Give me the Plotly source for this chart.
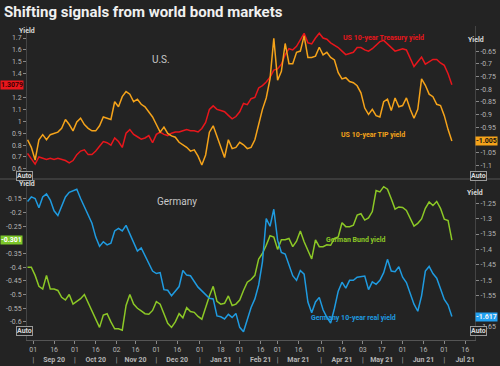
import pandas as pd
import plotly.graph_objects as go

# ---------------- data (every 2nd business day from 27 Aug 2020) ----------------
us10y = [0.73, 0.68, 0.64, 0.70, 0.69, 0.68, 0.69, 0.68, 0.69, 0.68,
         0.67, 0.65, 0.67, 0.72, 0.75, 0.76, 0.72, 0.72, 0.75, 0.79,
         0.83, 0.82, 0.80, 0.86, 0.83, 0.78, 0.90, 0.93, 0.89, 0.87,
         0.85, 0.86, 0.88, 0.82, 0.89, 0.91, 0.89, 0.88, 0.90, 0.91,
         0.91, 0.92, 0.93, 0.92, 0.92, 0.91, 0.94, 0.99, 1.10, 1.13,
         1.10, 1.09, 1.08, 1.05, 1.02, 1.04, 1.08, 1.15, 1.14, 1.19,
         1.20, 1.28, 1.30, 1.33, 1.37, 1.43, 1.44, 1.48, 1.56, 1.61,
         1.60, 1.63, 1.68, 1.74, 1.66, 1.65, 1.70, 1.74, 1.70, 1.69,
         1.66, 1.64, 1.62, 1.59, 1.56, 1.57, 1.58, 1.62, 1.62, 1.60,
         1.59, 1.61, 1.64, 1.67, 1.68, 1.65, 1.62, 1.59, 1.60, 1.61,
         1.60, 1.53, 1.46, 1.50, 1.54, 1.48, 1.50, 1.52, 1.52, 1.49,
         1.47, 1.40, 1.3079]

us_tip = [-1.00, -1.03, -1.08, -1.00, -0.98, -1.00, -0.98, -0.975, -0.97, -0.955,
          -0.92, -0.94, -0.965, -0.93, -0.915, -0.94, -0.955, -0.965, -0.965, -0.945,
          -0.91, -0.915, -0.92, -0.85, -0.87, -0.83, -0.81, -0.82, -0.85, -0.84,
          -0.86, -0.87, -0.89, -0.91, -0.94, -0.97, -0.95, -0.975, -0.985, -0.99,
          -1.01, -1.02, -1.03, -1.045, -1.04, -1.065, -1.10, -1.06, -0.97, -0.945,
          -0.985, -1.03, -1.07, -1.00, -1.035, -1.03, -1.01, -1.02, -1.035, -1.03,
          -1.00, -0.94, -0.88, -0.835, -0.76, -0.60, -0.765, -0.73, -0.62, -0.70,
          -0.70, -0.655, -0.65, -0.59, -0.675, -0.675, -0.67, -0.635, -0.665, -0.655,
          -0.675, -0.685, -0.735, -0.76, -0.755, -0.77, -0.775, -0.787, -0.815, -0.875,
          -0.90, -0.88, -0.905, -0.91, -0.85, -0.84, -0.885, -0.835, -0.87, -0.865,
          -0.835, -0.88, -0.915, -0.88, -0.76, -0.785, -0.82, -0.83, -0.86, -0.865,
          -0.905, -0.96, -1.005]

bund = [-0.40, -0.40, -0.43, -0.47, -0.48, -0.43, -0.48, -0.48, -0.485, -0.51,
        -0.52, -0.50, -0.535, -0.525, -0.515, -0.50, -0.53, -0.555, -0.59, -0.62,
        -0.575, -0.57, -0.60, -0.625, -0.625, -0.63, -0.54, -0.50, -0.535, -0.55,
        -0.56, -0.57, -0.572, -0.558, -0.526, -0.535, -0.57, -0.605, -0.62, -0.60,
        -0.57, -0.585, -0.548, -0.562, -0.565, -0.58, -0.59, -0.545, -0.505, -0.47,
        -0.525, -0.535, -0.532, -0.505, -0.54, -0.535, -0.52, -0.485, -0.455, -0.445,
        -0.43, -0.37, -0.35, -0.32, -0.285, -0.29, -0.335, -0.30, -0.30, -0.295,
        -0.325, -0.305, -0.268, -0.307, -0.34, -0.37, -0.30, -0.325, -0.325, -0.318,
        -0.32, -0.295, -0.29, -0.238, -0.252, -0.252, -0.247, -0.21, -0.205, -0.228,
        -0.22, -0.197, -0.12, -0.125, -0.106, -0.115, -0.15, -0.188, -0.18, -0.182,
        -0.193, -0.22, -0.25, -0.24, -0.224, -0.185, -0.162, -0.175, -0.16, -0.185,
        -0.225, -0.23, -0.301]

de_real = [-1.245, -1.23, -1.235, -1.265, -1.23, -1.22, -1.24, -1.275, -1.29, -1.26,
           -1.23, -1.215, -1.21, -1.205, -1.235, -1.26, -1.29, -1.315, -1.36, -1.39,
           -1.375, -1.385, -1.38, -1.34, -1.332, -1.34, -1.322, -1.35, -1.38, -1.405,
           -1.395, -1.42, -1.44, -1.47, -1.478, -1.475, -1.53, -1.532, -1.55, -1.535,
           -1.52, -1.468, -1.483, -1.485, -1.505, -1.522, -1.534, -1.545, -1.558, -1.56,
           -1.615, -1.618, -1.625, -1.61, -1.62, -1.607, -1.652, -1.666, -1.63, -1.588,
           -1.56, -1.515, -1.44, -1.30, -1.325, -1.27, -1.37, -1.41, -1.415, -1.45,
           -1.485, -1.50, -1.468, -1.48, -1.57, -1.605, -1.57, -1.555, -1.595, -1.62,
           -1.638, -1.591, -1.535, -1.506, -1.525, -1.50, -1.50, -1.49, -1.488, -1.486,
           -1.53, -1.505, -1.513, -1.50, -1.475, -1.432, -1.47, -1.472, -1.456, -1.49,
           -1.507, -1.545, -1.577, -1.60, -1.55, -1.47, -1.455, -1.478, -1.493, -1.527,
           -1.562, -1.58, -1.617]

dates = pd.bdate_range("2020-08-27", periods=2 * len(us10y) - 1)[::2]

# axis ticks / labels
x_tick_dates = ["2020-09-01", "2020-09-16", "2020-10-01", "2020-10-16", "2020-11-02", "2020-11-16",
                "2020-12-01", "2020-12-16", "2021-01-01", "2021-01-18", "2021-02-01", "2021-02-16",
                "2021-03-01", "2021-03-16", "2021-04-01", "2021-04-16", "2021-05-03", "2021-05-17",
                "2021-06-01", "2021-06-16", "2021-07-01", "2021-07-16"]
x_tick_days = ["01", "16", "01", "16", "02", "16", "01", "16", "01", "18", "01", "16",
               "01", "16", "01", "16", "03", "17", "01", "16", "01", "16"]
month_labels = ["Sep 20", "Oct 20", "Nov 20", "Dec 20", "Jan 21", "Feb 21",
                "Mar 21", "Apr 21", "May 21", "Jun 21", "Jul 21"]

us_left_ticks = [0.6, 0.7, 0.8, 0.9, 1.0, 1.1, 1.2, 1.4, 1.5, 1.6, 1.7]
us_right_ticks = [-0.65, -0.7, -0.75, -0.8, -0.85, -0.9, -0.95, -1.05, -1.1]
de_left_ticks = [-0.15, -0.2, -0.25, -0.35, -0.4, -0.45, -0.5, -0.55, -0.6]
de_right_ticks = [-1.25, -1.3, -1.35, -1.4, -1.45, -1.5, -1.55, -1.65]

# ---------------- styling ----------------
BG = "#232323"
RED = "#e8161c"
ORANGE = "#f5a31a"
GREEN = "#8cc826"
BLUE = "#1f9be0"
TICKC = "#b4b4b4"
FONT = "Roboto"

x_ticktext = []
m = 0
for i, d in enumerate(x_tick_days):
    if i % 2 == 0:
        x_ticktext.append(f"{d}<br>|")
    else:
        x_ticktext.append(f"{d}<br><b>{month_labels[m]}</b>")
        m += 1


def fmt(v):
    return f"{v:g}"


fig = go.Figure()
fig.add_trace(go.Scatter(x=dates, y=us10y, mode="lines", line=dict(color=RED, width=1.5),
                         xaxis="x2", yaxis="y", name="US 10-year Treasury yield"))
fig.add_trace(go.Scatter(x=dates, y=us_tip, mode="lines", line=dict(color=ORANGE, width=1.5),
                         xaxis="x2", yaxis="y2", name="US 10-year TIP yield"))
fig.add_trace(go.Scatter(x=dates, y=bund, mode="lines", line=dict(color=GREEN, width=1.5),
                         xaxis="x", yaxis="y3", name="German Bund yield"))
fig.add_trace(go.Scatter(x=dates, y=de_real, mode="lines", line=dict(color=BLUE, width=1.5),
                         xaxis="x", yaxis="y4", name="Germany 10-year real yield"))

L, R, T, B = 27, 25, 26, 26
W, H = 500, 366
PW, PH = W - L - R, H - T - B
split = (H - B - 179) / PH


def px(xp):
    return (xp - L) / PW


def py(yp):
    return (H - B - yp) / PH


xr = ["2020-08-26 17:00", "2021-07-23 05:00"]
rb = [dict(bounds=["sat", "mon"])]
yfont = dict(family=FONT, size=7, color=TICKC)
common_y = dict(tickmode="array", ticks="outside", ticklen=3, tickcolor="#888", tickfont=yfont,
                showgrid=False, zeroline=False, showline=True, linecolor="#444", automargin=False)

fig.update_layout(
    width=W, height=H,
    margin=dict(l=L, r=R, t=T, b=B, autoexpand=False),
    paper_bgcolor=BG, plot_bgcolor=BG,
    showlegend=False,
    font=dict(family=FONT, color=TICKC),
    title=dict(text="<b>Shifting signals from world bond markets</b>", x=0.008, xanchor="left",
               y=1 - 12 / H, yanchor="middle", xref="container", yref="container",
               font=dict(family=FONT, size=15, color="#f0f0f0")),
    xaxis=dict(domain=[0, 1], anchor="y3", type="date", range=xr, rangebreaks=rb,
               tickmode="array", tickvals=x_tick_dates, ticktext=x_ticktext, tickangle=0,
               ticks="outside", ticklen=3, tickcolor="#888", tickfont=dict(family=FONT, size=7, color=TICKC),
               showgrid=False, zeroline=False, showline=True, linecolor="#555", linewidth=1,
               automargin=False),
    xaxis2=dict(domain=[0, 1], anchor="y", type="date", range=xr, rangebreaks=rb, matches="x",
                showticklabels=False, showgrid=False, zeroline=False, ticks="", automargin=False),
    yaxis=dict(domain=[split, 1], anchor="x2", side="left", range=[0.515, 1.801],
               tickvals=us_left_ticks, ticktext=[fmt(v) for v in us_left_ticks], **common_y),
    yaxis2=dict(overlaying="y", anchor="x2", side="right", range=[-1.155, -0.551],
                tickvals=us_right_ticks, ticktext=[fmt(v) for v in us_right_ticks], **common_y),
    yaxis3=dict(domain=[0, split], anchor="x", side="left", range=[-0.666, -0.078],
                tickvals=de_left_ticks, ticktext=[fmt(v) for v in de_left_ticks], **common_y),
    yaxis4=dict(overlaying="y3", anchor="x", side="right", range=[-1.693, -1.172],
                tickvals=de_right_ticks, ticktext=[fmt(v) for v in de_right_ticks], **common_y),
)

# separator between panels
fig.add_shape(type="line", xref="paper", yref="paper", x0=px(0), x1=px(W), y0=split, y1=split,
              line=dict(color="#555", width=1))

ann = []
# axis "Yield" headers and "Auto" boxes
for (x, y) in [(17, 25), (17, 184), (486, 34), (485, 193)]:
    ann.append(dict(text="<b>Yield</b>", x=px(x), y=py(y), xref="paper", yref="paper",
                    showarrow=False, font=dict(family=FONT, size=7, color="#d8d8d8")))
for (x, y) in [(16, 176), (16, 336), (487, 176), (487, 336)]:
    ann.append(dict(text="<b>Auto</b>", x=px(x), y=py(y), xref="paper", yref="paper",
                    showarrow=False, font=dict(family=FONT, size=7, color="#d8d8d8"),
                    bordercolor="#9a9a9a", borderwidth=1, borderpad=0, bgcolor=BG))

# last-value boxes
ann.append(dict(text=f"<b>{us10y[-1]:.4f}</b>", x=px(0), xanchor="left", y=us10y[-1],
                xref="paper", yref="y", showarrow=False, bgcolor=RED, borderpad=0,
                font=dict(family=FONT, size=7, color="#3a0000")))
ann.append(dict(text=f"<b>{us_tip[-1]:.3f}</b>", x=px(475), xanchor="left", y=us_tip[-1],
                xref="paper", yref="y2", showarrow=False, bgcolor=ORANGE, borderpad=0,
                font=dict(family=FONT, size=7, color="#111")))
ann.append(dict(text=f"<b>{bund[-1]:.3f}</b>", x=px(0), xanchor="left", y=bund[-1],
                xref="paper", yref="y3", showarrow=False, bgcolor="#7cc62a", borderpad=0,
                font=dict(family=FONT, size=7, color="#ffffff")))
ann.append(dict(text=f"<b>{de_real[-1]:.3f}</b>", x=px(475), xanchor="left", y=de_real[-1],
                xref="paper", yref="y4", showarrow=False, bgcolor="#22a0f0", borderpad=0,
                font=dict(family=FONT, size=7, color="#f4f4f4")))

# panel and series labels
ann.append(dict(text="U.S.", x=px(150), y=py(51.7), xref="paper", yref="paper", showarrow=False,
                font=dict(family=FONT, size=10, color="#c8c8c8")))
ann.append(dict(text="Germany", x=px(155), y=py(201), xref="paper", yref="paper", showarrow=False,
                font=dict(family=FONT, size=10, color="#c8c8c8")))
ann.append(dict(text="<b>US 10-year Treasury yield</b>", x=px(426), y=py(31.7), xref="paper", yref="paper",
                showarrow=False, font=dict(family=FONT, size=7, color=RED)))
ann.append(dict(text="<b>US 10-year TIP yield</b>", x=px(406.7), y=py(135), xref="paper", yref="paper",
                showarrow=False, font=dict(family=FONT, size=7, color=ORANGE)))
ann.append(dict(text="<b>German Bund yield</b>", x=px(387.5), y=py(245.7), xref="paper", yref="paper",
                showarrow=False, font=dict(family=FONT, size=7, color=GREEN)))
ann.append(dict(text="<b>Germany 10-year real yield</b>", x=px(397.5), y=py(324), xref="paper", yref="paper",
                showarrow=False, font=dict(family=FONT, size=7, color=BLUE)))

fig.update_layout(annotations=ann)
fig.write_html("out.html", config={"displayModeBar": False},
               post_script="document.body.style.margin='0';document.body.style.background='" + BG + "';")
